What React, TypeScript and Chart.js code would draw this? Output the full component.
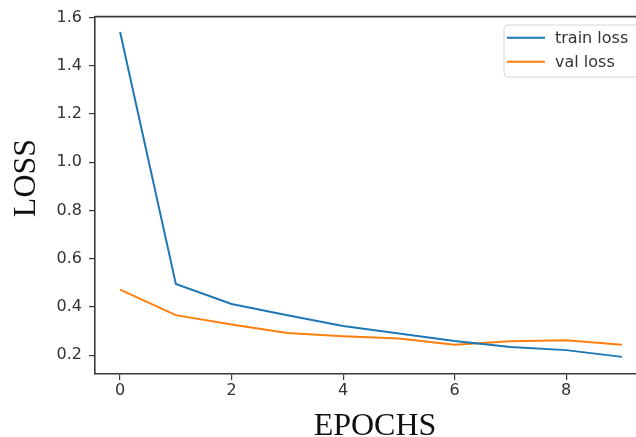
import React, { useEffect, useRef } from "react";
import { Chart, registerables } from "chart.js";

Chart.register(...registerables);

const epochs = [0, 1, 2, 3, 4, 5, 6, 7, 8, 9];
const trainLoss = [1.54, 0.495, 0.412, 0.366, 0.321, 0.29, 0.259, 0.234, 0.221, 0.193];
const valLoss = [0.472, 0.366, 0.327, 0.292, 0.279, 0.269, 0.243, 0.258, 0.262, 0.243];
const xTickValues = [0, 2, 4, 6, 8];
const yTickValues = [0.2, 0.4, 0.6, 0.8, 1.0, 1.2, 1.4, 1.6];
const seriesNames = ["train loss", "val loss"];
const xTitle = "EPOCHS";
const yTitle = "LOSS";

const SPINE = "#3a3a3a";
const TICK_FONT = { family: "DejaVu Sans", size: 16 };

const decorPlugin = {
  id: "decor",
  afterDatasetsDraw(chart: any) {
    const { ctx, chartArea } = chart;
    ctx.save();
    // top spine
    ctx.strokeStyle = SPINE;
    ctx.lineWidth = 1.6;
    ctx.beginPath();
    ctx.moveTo(chartArea.left, chartArea.top);
    ctx.lineTo(chartArea.right + 2, chartArea.top);
    ctx.stroke();

    // legend box (upper right, inside axes)
    const bx = 504, by = 25, bw = 160, bh = 52, r = 4;
    ctx.fillStyle = "rgba(255,255,255,0.8)";
    ctx.strokeStyle = "#d6d6d6";
    ctx.lineWidth = 1;
    ctx.beginPath();
    ctx.moveTo(bx + r, by);
    ctx.lineTo(bx + bw - r, by);
    ctx.arcTo(bx + bw, by, bx + bw, by + r, r);
    ctx.lineTo(bx + bw, by + bh - r);
    ctx.arcTo(bx + bw, by + bh, bx + bw - r, by + bh, r);
    ctx.lineTo(bx + r, by + bh);
    ctx.arcTo(bx, by + bh, bx, by + bh - r, r);
    ctx.lineTo(bx, by + r);
    ctx.arcTo(bx, by, bx + r, by, r);
    ctx.closePath();
    ctx.fill();
    ctx.stroke();

    const rows = [37.7, 61.7];
    chart.data.datasets.forEach((ds: any, i: number) => {
      const y = rows[i];
      ctx.strokeStyle = ds.borderColor;
      ctx.lineWidth = 2;
      ctx.beginPath();
      ctx.moveTo(507, y);
      ctx.lineTo(545, y);
      ctx.stroke();
      ctx.fillStyle = "#333";
      ctx.font = "16px 'DejaVu Sans'";
      ctx.textAlign = "left";
      ctx.textBaseline = "alphabetic";
      ctx.fillText(ds.label, 555, y + 5.5);
    });

    // axis titles
    ctx.fillStyle = "#111";
    ctx.font = "32px 'Liberation Serif'";
    ctx.textAlign = "center";
    ctx.textBaseline = "alphabetic";
    ctx.fillText(xTitle, 375, 435);
    ctx.translate(35, 178);
    ctx.rotate(-Math.PI / 2);
    ctx.fillText(yTitle, 0, 0);
    ctx.restore();
  },
};

export default function App() {
  const ref = useRef<HTMLCanvasElement>(null);

  useEffect(() => {
    document.body.style.margin = "0";
    const canvas = ref.current;
    if (!canvas) return;
    const chart = new Chart(canvas, {
      type: "line",
      data: {
        datasets: [
          {
            label: seriesNames[0],
            data: epochs.map((e, i) => ({ x: e, y: trainLoss[i] })),
            borderColor: "#1f77b4",
            backgroundColor: "#1f77b4",
            borderWidth: 2,
            pointRadius: 0,
            tension: 0,
          },
          {
            label: seriesNames[1],
            data: epochs.map((e, i) => ({ x: e, y: valLoss[i] })),
            borderColor: "#ff7f0e",
            backgroundColor: "#ff7f0e",
            borderWidth: 2,
            pointRadius: 0,
            tension: 0,
          },
        ],
      },
      options: {
        animation: false,
        responsive: false,
        devicePixelRatio: 1,
        layout: { padding: { top: 15, right: 5, left: 0, bottom: 0 } },
        plugins: {
          legend: { display: false },
          tooltip: { enabled: false },
        },
        scales: {
          x: {
            type: "linear",
            min: -0.45,
            max: 9.45,
            afterBuildTicks: (s: any) => {
              s.ticks = xTickValues.map((v) => ({ value: v }));
            },
            afterFit: (s: any) => {
              s.height = 63;
            },
            grid: {
              drawOnChartArea: false,
              drawTicks: true,
              tickLength: 6,
              color: SPINE,
              lineWidth: 1.2,
            },
            border: { display: true, color: SPINE, width: 1.6 },
            ticks: {
              font: TICK_FONT,
              color: "#333",
              padding: 1,
              maxRotation: 0,
              autoSkip: false,
              callback: (v: any) => String(v),
            },
          },
          y: {
            type: "linear",
            min: 0.122,
            max: 1.604,
            afterBuildTicks: (s: any) => {
              s.ticks = yTickValues.map((v) => ({ value: v }));
            },
            afterFit: (s: any) => {
              s.width = 95;
            },
            grid: {
              drawOnChartArea: false,
              drawTicks: true,
              tickLength: 6,
              color: SPINE,
              lineWidth: 1.2,
            },
            border: { display: true, color: SPINE, width: 1.6 },
            ticks: {
              font: TICK_FONT,
              color: "#333",
              padding: 7,
              autoSkip: false,
              callback: (v: any) => Number(v).toFixed(1),
            },
          },
        },
      },
      plugins: [decorPlugin],
    });
    return () => chart.destroy();
  }, []);

  return (
    <div
      style={{
        position: "fixed",
        left: 0,
        top: 0,
        width: 636,
        height: 437,
        overflow: "hidden",
        background: "#fff",
      }}
    >
      <canvas
        ref={ref}
        width={652}
        height={437}
        style={{ display: "block", width: 652, height: 437 }}
      />
    </div>
  );
}
